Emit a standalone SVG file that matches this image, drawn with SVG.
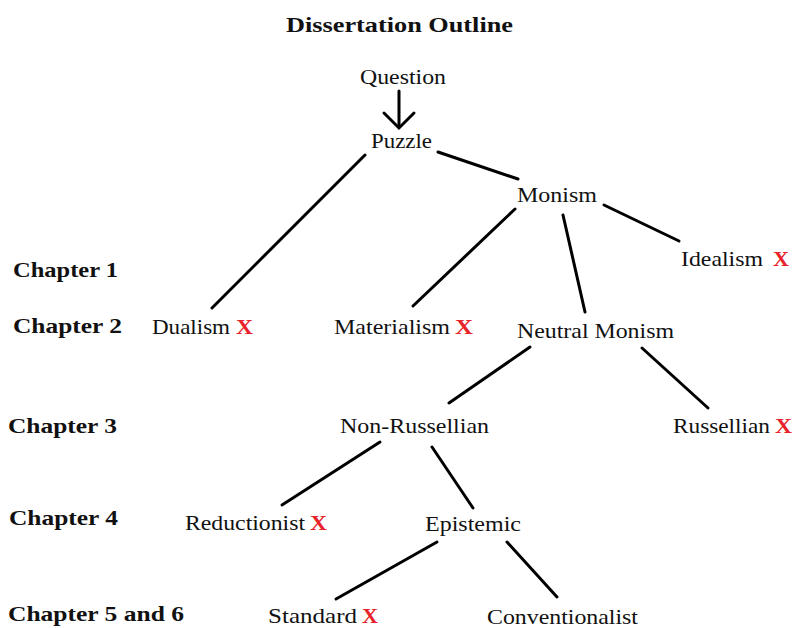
<svg xmlns="http://www.w3.org/2000/svg" width="793" height="628" viewBox="0 0 793 628">
<style>
  .t { font-family: "Liberation Serif", "DejaVu Serif", serif; font-size: 21.5px; fill: #111; }
  .h { font-family: "Liberation Serif", "DejaVu Serif", serif; font-size: 21px; font-weight: bold; fill: #111; }
  .title { font-family: "Liberation Serif", "DejaVu Serif", serif; font-size: 22px; font-weight: bold; fill: #111; }
  .x { font-family: "Liberation Serif", "DejaVu Serif", serif; font-size: 21px; font-weight: bold; fill: #e8222a; }
  .c line, .c polyline { stroke: #000; stroke-width: 3; stroke-linecap: round; fill: none; }
</style>
<rect width="793" height="628" fill="#fff"/>
<text class="title" x="286" y="32" textLength="227" lengthAdjust="spacingAndGlyphs">Dissertation Outline</text>

<g id="chapters">
  <text class="h" x="13" y="277" textLength="105" lengthAdjust="spacingAndGlyphs">Chapter 1</text>
  <text class="h" x="13" y="333" textLength="109" lengthAdjust="spacingAndGlyphs">Chapter 2</text>
  <text class="h" x="8" y="433" textLength="109" lengthAdjust="spacingAndGlyphs">Chapter 3</text>
  <text class="h" x="9" y="525" textLength="109" lengthAdjust="spacingAndGlyphs">Chapter 4</text>
  <text class="h" x="8" y="621" textLength="176" lengthAdjust="spacingAndGlyphs">Chapter 5 and 6</text>
</g>

<g class="c" id="connectors">
  <line x1="399" y1="91" x2="399" y2="127"/>
  <polyline points="384,113 399,128 414,113"/>
  <line x1="438" y1="152" x2="518" y2="179"/>
  <line x1="365" y1="155" x2="212" y2="308"/>
  <line x1="515" y1="209" x2="413" y2="306"/>
  <line x1="563" y1="215" x2="585" y2="312"/>
  <line x1="604" y1="205" x2="679" y2="241"/>
  <line x1="530" y1="347" x2="449" y2="403"/>
  <line x1="642" y1="348" x2="708" y2="408"/>
  <line x1="380" y1="442" x2="282" y2="505"/>
  <line x1="432" y1="447" x2="473" y2="508"/>
  <line x1="437" y1="542" x2="336" y2="599"/>
  <line x1="507" y1="542" x2="557" y2="597"/>
</g>

<g id="question"><text class="t" x="360" y="84" textLength="86" lengthAdjust="spacingAndGlyphs">Question</text></g>
<g id="puzzle"><text class="t" x="371" y="148" textLength="61" lengthAdjust="spacingAndGlyphs">Puzzle</text></g>
<g id="monism"><text class="t" x="517" y="202" textLength="80" lengthAdjust="spacingAndGlyphs">Monism</text></g>
<g id="idealism"><text class="t" x="681" y="266" textLength="82" lengthAdjust="spacingAndGlyphs">Idealism</text><text class="x" x="773" y="266" textLength="16" lengthAdjust="spacingAndGlyphs">X</text></g>
<g id="dualism"><text class="t" x="152" y="334" textLength="78" lengthAdjust="spacingAndGlyphs">Dualism</text><text class="x" x="236" y="334" textLength="17" lengthAdjust="spacingAndGlyphs">X</text></g>
<g id="materialism"><text class="t" x="334" y="334" textLength="116" lengthAdjust="spacingAndGlyphs">Materialism</text><text class="x" x="455" y="334" textLength="18" lengthAdjust="spacingAndGlyphs">X</text></g>
<g id="neutral-monism"><text class="t" x="517" y="338" textLength="157" lengthAdjust="spacingAndGlyphs">Neutral Monism</text></g>
<g id="non-russellian"><text class="t" x="340" y="433" textLength="149" lengthAdjust="spacingAndGlyphs">Non-Russellian</text></g>
<g id="russellian"><text class="t" x="673" y="433" textLength="97" lengthAdjust="spacingAndGlyphs">Russellian</text><text class="x" x="775" y="433" textLength="17" lengthAdjust="spacingAndGlyphs">X</text></g>
<g id="reductionist"><text class="t" x="185" y="530" textLength="120" lengthAdjust="spacingAndGlyphs">Reductionist</text><text class="x" x="310" y="530" textLength="17" lengthAdjust="spacingAndGlyphs">X</text></g>
<g id="epistemic"><text class="t" x="425" y="531" textLength="96" lengthAdjust="spacingAndGlyphs">Epistemic</text></g>
<g id="standard"><text class="t" x="268" y="623" textLength="89" lengthAdjust="spacingAndGlyphs">Standard</text><text class="x" x="362" y="623" textLength="16" lengthAdjust="spacingAndGlyphs">X</text></g>
<g id="conventionalist"><text class="t" x="487" y="624" textLength="151" lengthAdjust="spacingAndGlyphs">Conventionalist</text></g>
</svg>
